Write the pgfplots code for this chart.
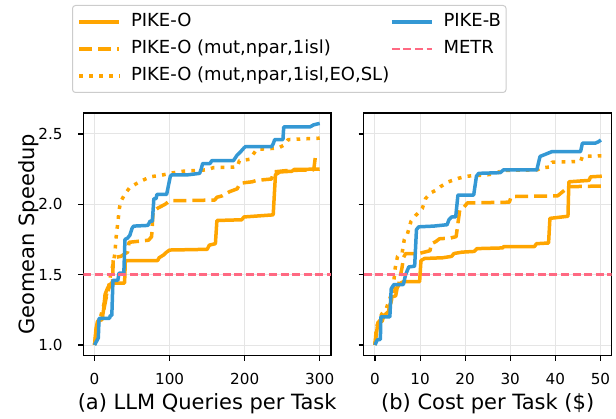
\documentclass[border=0pt]{standalone}
\usepackage{fontspec}
\setmainfont{DejaVu Sans}
\usepackage{pgfplots}
\pgfplotsset{compat=1.18}

\definecolor{pikeo}{RGB}{255,165,0}
\definecolor{pikeb}{RGB}{52,152,212}
\definecolor{metr}{RGB}{255,105,130}

\newcommand{\colA}[1]{\hspace*{10pt}\makebox[259pt][l]{#1}}
\newcommand{\colB}[1]{\hspace*{10pt}#1}

\pgfplotsset{
 myaxis/.style={
  scale only axis, height=242.7pt,
  ymin=0.924, ymax=2.649,
  ytick={1.0,1.5,2.0,2.5},
  grid=major, major grid style={line width=1pt, color=black!10},
  axis line style={line width=1.1pt},
  tick align=outside, tick pos=left,
  major tick length=5pt,
  every tick/.style={black, line width=1.1pt},
  tick label style={font=\fontsize{15.2}{18}\selectfont},
  /pgf/number format/assume math mode=true,
  yticklabel style={/pgf/number format/fixed, /pgf/number format/fixed zerofill, /pgf/number format/precision=1, anchor=east, inner sep=0pt, xshift=-15.5pt},
  xticklabel style={anchor=north, inner sep=0pt, yshift=-12.5pt},
  label style={font=\fontsize{21}{25}\selectfont},
  xlabel style={at={(axis description cs:0.5,-0.22)}, anchor=base},
 },
 solidO/.style={pikeo, line width=3.5pt, line join=round},
 dashO/.style={pikeo, line width=3.5pt, line join=round, dash pattern=on 13pt off 6pt},
 dotO/.style={pikeo, line width=3.5pt, line join=round, dash pattern=on 3.7pt off 6.2pt},
 blueB/.style={pikeb, line width=3.5pt, line join=round},
 metrL/.style={metr, line width=2.4pt, dash pattern=on 8pt off 3.6pt},
}

\begin{document}
\begin{tikzpicture}
\useasboundingbox (0pt,0pt) rectangle (616pt,419pt);

\begin{axis}[myaxis, at={(83.3pt,63.3pt)}, anchor=south west, width=247.7pt,
  xmin=-15, xmax=315, xtick={0,100,200,300},
  xlabel={(a) LLM Queries per Task}, ylabel={Geomean Speedup},
  ylabel style={at={(axis description cs:-0.276,0.5)}, anchor=north},
  legend columns=2, legend cell align=left,
  legend image code/.code={\draw[#1] (0pt,0pt) -- (40pt,0pt);},
  legend style={at={(axis description cs:-0.0456,1.445)}, anchor=north west,
    font=\fontsize{18}{21}\selectfont, draw=black!20, line width=1pt, rounded corners=3pt,
    inner xsep=5pt, inner ysep=3pt, column sep=0pt,
    nodes={inner sep=0pt, text height=14pt, text depth=5pt, inner ysep=4pt}},
]
\addplot[solidO, forget plot] coordinates {(0,1.0)(2,1.12)(4,1.17)(10,1.18)(12,1.25)(14,1.36)(17,1.40)(20,1.43)(26,1.44)(40,1.44)(41,1.60)(84,1.60)(86,1.62)(92,1.64)(96,1.66)(100,1.675)(150,1.68)(153,1.71)(161,1.72)(163,1.885)(196,1.89)(199,1.91)(238,1.925)(241,2.21)(247,2.23)(263,2.235)(266,2.248)(300,2.25)};
\addplot[dashO, forget plot] coordinates {(0,1.0)(3,1.13)(6,1.18)(10,1.19)(13,1.27)(16,1.35)(20,1.42)(24,1.45)(25,1.62)(35,1.63)(44,1.66)(46,1.73)(72,1.745)(76,1.77)(78,1.95)(85,1.975)(94,2.0)(100,2.025)(160,2.03)(163,2.05)(170,2.06)(180,2.09)(190,2.11)(194,2.15)(210,2.16)(216,2.17)(236,2.18)(238,2.23)(256,2.24)(292,2.245)(294,2.33)(300,2.34)};
\addplot[dotO, forget plot] coordinates {(0,1.0)(3,1.12)(8,1.2)(14,1.32)(19,1.42)(22,1.52)(25,1.58)(27,1.65)(29,1.78)(31,1.87)(33,1.97)(35,2.02)(40,2.07)(47,2.12)(60,2.16)(74,2.195)(92,2.21)(100,2.22)(118,2.235)(150,2.245)(158,2.26)(190,2.265)(193,2.31)(207,2.32)(212,2.36)(216,2.39)(245,2.40)(252,2.42)(258,2.46)(300,2.47)};
\addplot[blueB, forget plot] coordinates {(0,1.0)(3,1.03)(5,1.05)(6,1.19)(20,1.19)(21,1.21)(23,1.21)(24.5,1.46)(31,1.46)(32.5,1.51)(39,1.51)(40.5,1.75)(44,1.76)(47,1.78)(50,1.83)(52,1.845)(71,1.85)(74,1.88)(77,1.88)(79,2.04)(82,2.04)(83,2.07)(96,2.07)(101,2.20)(103,2.21)(125,2.21)(140,2.22)(142,2.25)(144,2.29)(154,2.29)(156,2.31)(185,2.31)(190,2.35)(194,2.37)(199,2.40)(201,2.41)(236,2.41)(238,2.43)(240,2.46)(251,2.46)(252,2.55)(287,2.55)(292,2.565)(300,2.575)};
\addplot[metrL, forget plot] coordinates {(-15,1.5)(315,1.5)};
\addlegendimage{solidO}\addlegendentry{\colA{PIKE-O}}
\addlegendimage{blueB}\addlegendentry{\colB{PIKE-B}}
\addlegendimage{dashO}\addlegendentry{\colA{PIKE-O (mut,npar,1isl)}}
\addlegendimage{metrL}\addlegendentry{\colB{METR}}
\addlegendimage{dotO}\addlegendentry{\colA{PIKE-O (mut,npar,1isl,EO,SL)}}
\end{axis}

\begin{axis}[myaxis, at={(363.7pt,63.3pt)}, anchor=south west, width=248pt,
  xmin=-2.5, xmax=52.5, xtick={0,10,20,30,40,50}, yticklabels={},
  xlabel={(b) Cost per Task (\$)},
]
\addplot[solidO] coordinates {(0,1.0)(0.4,1.10)(0.6,1.15)(1.6,1.17)(2,1.21)(3.1,1.24)(3.7,1.34)(4.6,1.35)(5,1.42)(5.7,1.44)(6.3,1.45)(9.9,1.45)(10.2,1.60)(11,1.615)(15,1.62)(17,1.63)(17.5,1.65)(19.3,1.66)(22,1.665)(22.6,1.685)(28.3,1.69)(28.6,1.70)(35.4,1.70)(35.8,1.72)(38.5,1.725)(38.8,1.90)(42.8,1.915)(43,2.16)(47.5,2.17)(47.8,2.195)(50.3,2.20)};
\addplot[dashO] coordinates {(0,1.0)(0.3,1.12)(0.7,1.16)(1.5,1.19)(2.3,1.22)(3,1.24)(3.5,1.30)(4.2,1.38)(5.2,1.42)(6,1.55)(6.3,1.62)(6.8,1.65)(9.7,1.65)(12.2,1.67)(12.5,1.72)(13.5,1.735)(14.3,1.755)(16.7,1.76)(18,1.77)(18.8,1.96)(19.5,1.97)(20.5,2.01)(29.8,2.015)(30.2,2.055)(40.5,2.06)(43,2.125)(50.2,2.13)};
\addplot[dotO] coordinates {(0,1.0)(0.3,1.10)(0.8,1.17)(1.5,1.22)(2.5,1.26)(3.3,1.33)(4,1.40)(4.5,1.55)(5,1.63)(6,1.65)(6.5,1.75)(7.2,1.79)(8,1.88)(9,1.92)(10.5,1.97)(11.2,2.04)(12.3,2.08)(13.5,2.10)(14.5,2.125)(16.3,2.16)(18.5,2.185)(20.5,2.20)(25,2.21)(27,2.22)(28,2.24)(36,2.245)(37,2.26)(38.9,2.265)(39.3,2.30)(45.6,2.305)(46,2.34)(50.2,2.345)};
\addplot[blueB] coordinates {(0,1.0)(0.5,1.036)(1.2,1.04)(1.3,1.20)(3.3,1.20)(3.6,1.40)(4.2,1.43)(6.3,1.43)(6.8,1.50)(7.5,1.555)(8.8,1.56)(9.2,1.82)(9.7,1.84)(13,1.845)(16,1.855)(16.4,1.89)(17,1.91)(17.9,1.91)(18.4,2.066)(21.9,2.066)(22.5,2.20)(23,2.22)(27.8,2.225)(28.5,2.245)(35.9,2.245)(36.6,2.34)(39.3,2.375)(45.6,2.375)(46,2.434)(48.9,2.435)(49.6,2.445)(50.1,2.457)};
\addplot[metrL] coordinates {(-2.5,1.5)(52.5,1.5)};
\end{axis}
\end{tikzpicture}
\end{document}
